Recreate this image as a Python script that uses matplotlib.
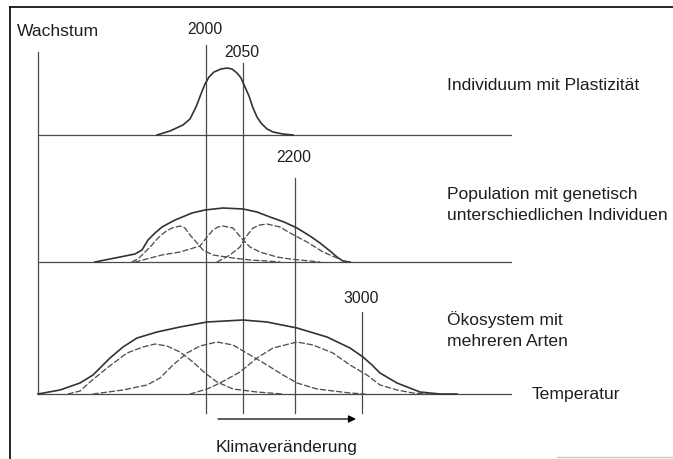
"""Wachstum vs. Temperatur: Individuum, Population und Ökosystem unter Klimaveränderung."""

import matplotlib
matplotlib.use("Agg")
import matplotlib.pyplot as plt
import numpy as np

# ---------------------------------------------------------------------------
# Data (temperature along x, growth above each panel's baseline)
# ---------------------------------------------------------------------------

# Individuum mit Plastizität
ind_temp = [119, 132, 145, 152, 158, 163, 167, 171, 176, 183, 189, 194,
            199, 203, 207, 211, 215, 219, 223, 229, 235, 245, 255]
ind_growth = [0, 4, 10, 16, 28, 41, 51, 58, 63, 66, 67, 66,
              62, 57, 48, 39, 27, 18, 12, 6, 3, 1, 0]

# Population: envelope + three individuals
pop_temp = [57, 77, 97, 104, 110, 117, 124, 137, 154, 167, 185, 205,
            219, 232, 246, 259, 272, 282, 292, 299, 305, 312]
pop_growth = [0, 4, 8, 12, 22, 29, 35, 42, 49, 52, 54, 53,
              50, 45, 40, 34, 26, 19, 11, 5, 1, 0]

pop_a_temp = [94, 101, 107, 114, 120, 127, 134, 142, 147, 152, 159, 165,
              175, 195, 212, 229, 242]
pop_a_growth = [0, 4, 10, 17, 24, 30, 34, 36, 34, 27, 19, 12,
                7, 4, 2, 1, 0]

pop_b_temp = [97, 124, 142, 162, 169, 175, 180, 185, 195, 205, 212, 222,
              239, 252, 282]
pop_b_growth = [0, 7, 10, 16, 25, 32, 35, 36, 34, 22, 15, 10, 5, 3, 0]

pop_c_temp = [179, 192, 202, 207, 215, 222, 229, 242, 252, 269, 285, 299,
              305, 312]
pop_c_growth = [0, 7, 15, 24, 34, 37, 38, 35, 29, 20, 10, 4, 1, 0]

# Ökosystem: envelope + three species
eco_temp = [0, 22, 42, 55, 72, 85, 99, 119, 142, 169, 205, 229, 259,
            289, 312, 325, 334, 342, 359, 382, 402, 419]
eco_growth = [0, 4, 11, 19, 36, 47, 56, 62, 67, 72, 74, 72, 66,
              57, 46, 37, 29, 21, 11, 2, 0, 0]

eco_a_temp = [30, 42, 52, 69, 89, 105, 117, 129, 142, 155, 167, 179,
              195, 219, 245]
eco_a_growth = [0, 3, 12, 26, 41, 47, 50, 48, 42, 32, 21, 12, 5, 2, 0]

eco_b_temp = [55, 85, 109, 122, 135, 149, 162, 179, 195, 212, 229, 245,
              259, 279, 312, 327]
eco_b_growth = [0, 4, 9, 16, 29, 41, 48, 52, 49, 39, 29, 19, 11, 5, 1, 0]

eco_c_temp = [152, 169, 182, 202, 219, 235, 259, 275, 295, 312, 329, 342,
              359, 375, 392]
eco_c_growth = [0, 5, 11, 22, 36, 46, 52, 49, 41, 29, 19, 9, 4, 1, 0]

# Years marked on the temperature axis
years = ["2000", "2050", "2200", "3000"]
year_temp = [168, 205, 257, 324]

# ---------------------------------------------------------------------------
# Layout (pixel coordinates of a 673x459 canvas)
# ---------------------------------------------------------------------------

X0 = 38                       # x of temperature origin
BASES = [135, 262, 394]       # baselines of the three panels
AXIS_END = 511
YEAR_TOP = [45, 63, 178, 312]
YEAR_LABEL_Y = [34, 57, 162, 303]
YEAR_BOTTOM = 413

LINE_C = "#333333"
AXIS_C = "#4a4a4a"
TEXT_C = "#1e1e1e"
FONT = ["Liberation Sans", "DejaVu Sans"]
DASH = (0, (4.0, 2.2))

fig = plt.figure(figsize=(6.73, 4.59), dpi=100)
ax = fig.add_axes([0, 0, 1, 1])
ax.set_xlim(0, 673)
ax.set_ylim(459, 0)
ax.axis("off")


def curve(temp, growth, base, dashed=False):
    x = X0 + np.asarray(temp, dtype=float)
    y = base - np.asarray(growth, dtype=float)
    if dashed:
        ax.plot(x, y, color="#505050", lw=0.95, ls=DASH,
                dash_joinstyle="round", dash_capstyle="round")
    else:
        ax.plot(x, y, color=LINE_C, lw=1.2, solid_joinstyle="round")


# frame
ax.plot([10, 10], [459, 7], color="black", lw=1.2)
ax.plot([10, 673], [7, 7], color="black", lw=1.2)
ax.plot([557, 673], [457, 457], color="#c8c8c8", lw=1.0)

# axes
ax.plot([X0, X0], [52, BASES[2]], color=AXIS_C, lw=0.9)
for b in BASES:
    ax.plot([X0, AXIS_END], [b, b], color=AXIS_C, lw=0.9)

# year markers
for label, t, top, ly in zip(years, year_temp, YEAR_TOP, YEAR_LABEL_Y):
    ax.plot([X0 + t, X0 + t], [top, YEAR_BOTTOM], color=AXIS_C, lw=0.9)
    ax.text(X0 + t - 1, ly, label, ha="center", va="baseline",
            fontsize=11.3, family=FONT, color=TEXT_C)

# curves
curve(ind_temp, ind_growth, BASES[0])

curve(pop_temp, pop_growth, BASES[1])
curve(pop_a_temp, pop_a_growth, BASES[1], dashed=True)
curve(pop_b_temp, pop_b_growth, BASES[1], dashed=True)
curve(pop_c_temp, pop_c_growth, BASES[1], dashed=True)

curve(eco_temp, eco_growth, BASES[2])
curve(eco_a_temp, eco_a_growth, BASES[2], dashed=True)
curve(eco_b_temp, eco_b_growth, BASES[2], dashed=True)
curve(eco_c_temp, eco_c_growth, BASES[2], dashed=True)

# arrow
ax.annotate("", xy=(356, 419), xytext=(218, 419),
            arrowprops=dict(arrowstyle="-|>", color="black", lw=0.9,
                            mutation_scale=11, shrinkA=0, shrinkB=0))

# labels
kw = dict(fontsize=12.6, family=FONT, color=TEXT_C, va="baseline")
ax.text(17, 36, "Wachstum", ha="left", **kw)
ax.text(447, 90, "Individuum mit Plastizität", ha="left", **kw)
ax.text(447, 199, "Population mit genetisch", ha="left", **kw)
ax.text(447, 220, "unterschiedlichen Individuen", ha="left", **kw)
ax.text(447, 325, "Ökosystem mit", ha="left", **kw)
ax.text(447, 346, "mehreren Arten", ha="left", **kw)
ax.text(532, 399, "Temperatur", ha="left", **kw)
ax.text(287, 452, "Klimaveränderung", ha="center", **kw)

fig.savefig("out.png", dpi=100)
